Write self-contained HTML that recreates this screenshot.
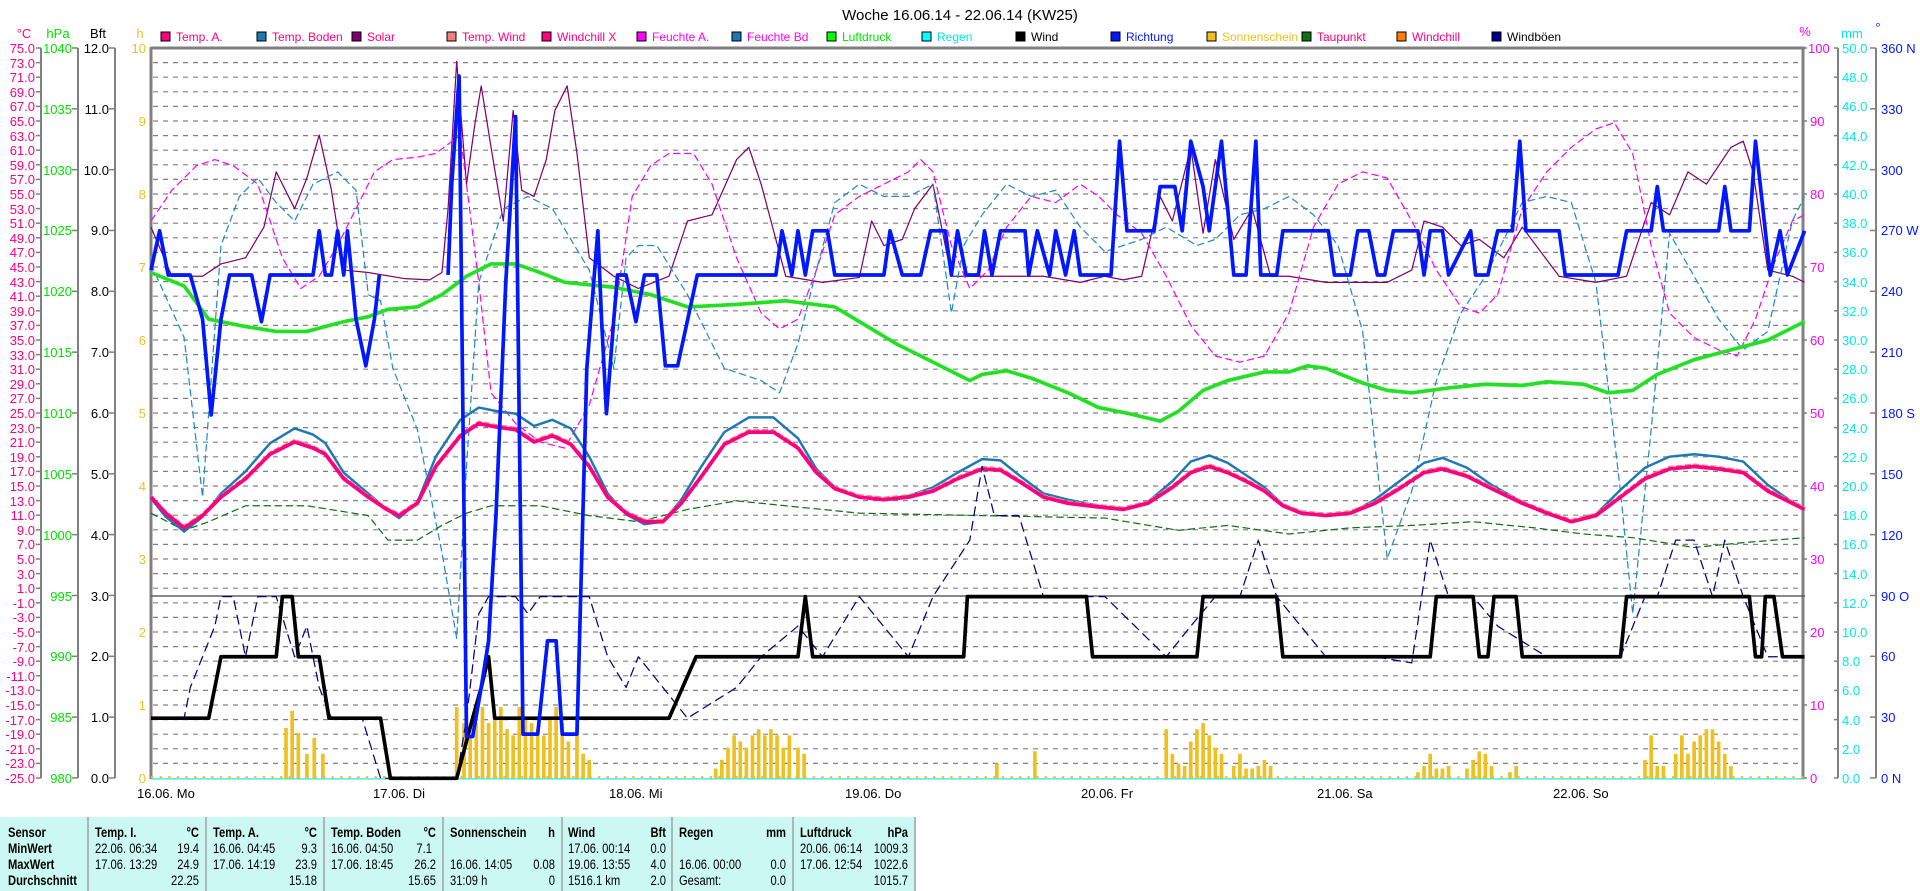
<!DOCTYPE html>
<html><head><meta charset="utf-8"><style>
html,body{margin:0;padding:0;background:#fff;}
svg{display:block;font-family:"Liberation Sans",sans-serif;}
.tb{font-family:"Liberation Sans",sans-serif;font-size:14px;}
</style></head><body>
<svg id="s" width="1920" height="891" xmlns="http://www.w3.org/2000/svg">
<rect width="1920" height="891" fill="#fff"/>
<g id="grid"></g>
<line x1="151" y1="48" x2="1805" y2="48" stroke="#808080" stroke-width="3"/>
<line x1="151" y1="47" x2="151" y2="779" stroke="#808080" stroke-width="3"/>
<line x1="1803" y1="47" x2="1803" y2="779" stroke="#808080" stroke-width="3"/>
<line x1="151" y1="596" x2="1805" y2="596" stroke="#606060" stroke-width="1.5"/>
<line x1="41" y1="48" x2="41" y2="778" stroke="#808080" stroke-width="2"/>
<line x1="78" y1="48" x2="78" y2="778" stroke="#808080" stroke-width="2"/>
<line x1="115" y1="48" x2="115" y2="778" stroke="#808080" stroke-width="2"/>
<line x1="1838" y1="48" x2="1838" y2="778" stroke="#808080" stroke-width="2"/>
<line x1="1876" y1="48" x2="1876" y2="778" stroke="#808080" stroke-width="2"/>
<g id="ticks"></g>

<g transform="scale(1.22762)" fill="none" stroke-linejoin="round">
<g id="bars" fill="#f0c020" stroke="none"></g>
<line x1="123" y1="633" x2="1470" y2="633" stroke="#f0c020" stroke-width="1.5" stroke-dasharray="2,5"/>
<line x1="123" y1="634.5" x2="1470" y2="634.5" stroke="#30e0e0" stroke-width="1"/>
<polyline stroke="#800070" stroke-width="1" points="123,185 140,225 165,225 180,215 200,210 215,185 225,140 240,170 250,145 260,110 270,155 280,220 300,222 330,227 350,228 360,222 365,170 372,50 380,150 387,100 392,70 400,120 410,180 418,90 425,155 435,160 445,130 452,90 462,70 470,125 480,210 500,225 520,235 545,225 560,180 580,175 600,130 610,120 620,150 640,225 670,230 700,226 710,180 720,200 735,195 745,170 760,150 775,225 800,225 850,225 880,230 900,225 915,228 930,225 945,160 955,180 970,120 980,190 990,130 1005,195 1020,170 1035,225 1050,225 1080,230 1130,230 1150,220 1160,180 1175,185 1190,200 1205,195 1225,210 1240,185 1270,225 1300,230 1325,225 1345,165 1360,175 1375,140 1390,150 1410,120 1420,115 1428,140 1440,220 1460,225 1470,230"/>
<polyline stroke="#ff00ff" stroke-width="1" stroke-dasharray="6,3" points="123,180 140,155 160,135 175,130 190,135 210,150 230,210 245,235 260,225 275,200 290,170 305,140 320,130 340,128 355,125 375,110 390,230 400,320 420,345 440,360 460,365 480,330 500,260 515,160 530,135 545,125 565,125 580,150 600,210 620,255 635,268 650,260 665,220 680,175 700,160 720,150 740,140 750,130 760,140 775,200 790,235 805,220 820,185 840,160 860,165 880,150 895,160 910,175 930,190 950,225 970,265 990,290 1010,295 1030,290 1050,255 1070,185 1090,150 1110,140 1130,145 1150,180 1170,220 1190,250 1205,255 1220,240 1240,170 1260,140 1280,120 1300,105 1315,100 1330,125 1345,200 1360,255 1380,275 1400,285 1415,290 1430,260 1445,215 1460,180 1470,175"/>
<polyline stroke="#1e8cc8" stroke-width="1" stroke-dasharray="6,3" points="123,215 150,275 165,405 180,200 195,160 210,145 225,165 240,180 255,150 275,140 290,155 300,240 310,245 320,300 340,350 360,450 372,520 380,380 390,230 410,170 430,160 450,170 480,220 500,300 510,210 520,200 535,200 560,240 590,300 620,310 635,320 650,280 665,220 680,165 700,150 720,160 740,160 760,150 775,255 785,200 800,175 820,150 840,160 860,155 880,185 900,205 930,195 950,185 975,200 990,195 1010,175 1030,170 1050,160 1070,175 1090,200 1110,270 1130,455 1150,400 1170,310 1190,255 1210,225 1240,165 1260,160 1280,165 1300,230 1320,400 1330,500 1345,350 1360,190 1380,225 1400,260 1420,285 1440,270 1460,180 1470,160"/>
<polyline stroke="#22e022" stroke-width="3" points="123,222 150,233 170,260 200,266 225,270 250,270 280,262 300,258 316,252 340,250 360,240 380,225 400,215 420,215 440,222 460,230 480,232 500,234 530,240 560,250 600,248 640,245 680,250 700,262 730,280 760,295 780,305 790,310 800,305 820,302 840,308 870,320 895,332 920,337 945,343 960,335 980,318 1000,310 1030,303 1050,303 1065,298 1080,300 1110,312 1130,318 1150,320 1180,316 1210,313 1240,314 1260,311 1290,313 1310,320 1330,318 1350,305 1380,293 1410,285 1440,277 1470,262"/>
<polyline stroke="#107010" stroke-width="1" stroke-dasharray="6,3" points="123,418 150,432 170,425 200,412 250,412 300,420 316,440 340,440 360,428 380,418 400,412 440,412 480,420 520,425 560,415 600,408 640,412 700,418 800,420 900,422 960,432 1000,428 1050,435 1100,430 1150,428 1200,425 1250,430 1290,435 1330,438 1380,446 1420,442 1470,438"/>
<polyline stroke="#1e78b4" stroke-width="2" transform="translate(0,-3)" points="123,409 135,424 150,436 165,424 180,405 200,387 220,364 240,352 255,357 265,364 280,388 300,405 315,418 325,425 340,412 355,375 375,345 390,335 405,338 420,340 435,350 450,345 465,352 480,375 495,405 510,422 525,430 540,428 555,410 570,385 590,355 610,343 630,343 650,360 665,385 680,400 700,408 720,410 740,407 760,400 780,388 800,377 815,378 830,390 850,405 870,410 895,415 915,418 935,412 955,395 970,379 985,374 1000,380 1015,390 1030,400 1045,414 1060,421 1080,423 1100,421 1120,410 1140,395 1160,380 1175,376 1195,384 1215,398 1240,412 1260,421 1280,428 1300,422 1320,402 1340,384 1360,375 1380,373 1400,375 1420,379 1440,398 1460,412 1470,418"/>
<polyline stroke="#f08080" stroke-width="1" stroke-dasharray="5,2" transform="translate(0,-2)" points="123,405 135,418 150,430 165,420 180,405 200,390 220,370 240,360 255,365 265,370 280,390 300,405 315,415 325,420 340,410 355,380 375,355 390,345 405,348 420,350 435,360 450,355 465,362 480,380 495,405 510,418 525,425 540,425 555,410 570,390 590,362 610,352 630,352 650,365 665,385 680,398 700,405 720,407 740,405 760,400 780,390 800,382 815,383 830,392 850,405 870,410 895,413 915,415 935,410 955,397 970,385 985,380 1000,385 1015,392 1030,400 1045,412 1060,418 1080,420 1100,418 1120,410 1140,398 1160,385 1175,382 1195,388 1215,398 1240,410 1260,418 1280,425 1300,420 1320,405 1340,390 1360,382 1380,380 1400,382 1420,385 1440,400 1460,410 1470,415"/>
<polyline stroke="#ff0080" stroke-width="3" points="123,405 135,418 150,430 165,420 180,405 200,390 220,370 240,360 255,365 265,370 280,390 300,405 315,415 325,420 340,410 355,380 375,355 390,345 405,348 420,350 435,360 450,355 465,362 480,380 495,405 510,418 525,425 540,425 555,410 570,390 590,362 610,352 630,352 650,365 665,385 680,398 700,405 720,407 740,405 760,400 780,390 800,382 815,383 830,392 850,405 870,410 895,413 915,415 935,410 955,397 970,385 985,380 1000,385 1015,392 1030,400 1045,412 1060,418 1080,420 1100,418 1120,410 1140,398 1160,385 1175,382 1195,388 1215,398 1240,410 1260,418 1280,425 1300,420 1320,405 1340,390 1360,382 1380,380 1400,382 1420,385 1440,400 1460,410 1470,415"/>
<polyline stroke="#000080" stroke-width="1" stroke-dasharray="8,4" points="123,585 150,585 155,560 165,535 175,510 180,486 190,486 200,535 210,486 225,486 240,535 250,510 260,560 270,585 295,585 310,634 372,634 380,585 390,500 398,486 420,486 430,500 440,486 480,486 495,535 510,560 520,535 540,560 560,585 600,560 620,535 650,510 670,535 700,486 740,535 760,486 790,440 800,380 810,420 830,420 850,486 900,486 950,535 970,510 990,486 1010,486 1025,440 1040,486 1080,535 1120,535 1150,540 1165,440 1180,486 1200,486 1220,510 1260,535 1320,535 1340,486 1350,486 1365,440 1380,440 1395,486 1405,440 1420,486 1440,535 1460,535"/>
<polyline stroke="#000" stroke-width="3" points="123,585 170,585 180,535 225,535 230,486 238,486 243,535 260,535 268,585 310,585 318,634 372,634 385,585 392,560 398,535 403,585 545,585 567,535 650,535 656,486 662,535 785,535 788,486 885,486 890,535 975,535 980,486 1040,486 1045,535 1165,535 1170,486 1200,486 1205,535 1212,535 1217,486 1235,486 1240,535 1320,535 1325,486 1425,486 1430,535 1435,535 1438,486 1445,486 1452,535 1470,535"/>
<polyline stroke="#0018ff" stroke-width="3" points="123,220 130,188 137,224 155,224 165,260 172,338 180,260 187,224 205,224 213,262 220,224 255,224 260,188 265,224 270,224 275,188 280,224 283,188 290,260 298,298 305,260 309,224"/>
<polyline stroke="#0018ff" stroke-width="3" points="365,224 368,150 374,62 380,600 385,600 392,560 398,522 404,420 412,230 420,95 426,598 432,598 438,598 446,522 453,522 458,598 470,598 478,300 487,188 490,260 494,337 500,260 503,224 510,224 518,262 525,224 535,224 542,298 552,298 568,224 632,224 637,188 645,224 650,188 656,224 662,188 674,188 680,224 720,224 725,188 735,224 750,224 758,188 770,188 775,224 780,188 787,224 797,224 802,188 808,224 815,188 835,188 838,224 845,188 855,224 860,188 868,224 875,188 880,224 905,224 912,115 918,188 940,188 945,152 957,152 963,188 970,115 980,152 985,188 995,115 1005,224 1015,224 1023,115 1027,224 1040,224 1045,188 1082,188 1087,224 1100,224 1106,188 1115,188 1122,224 1128,224 1135,188 1155,188 1160,224 1165,188 1175,188 1180,224 1198,188 1202,224 1212,224 1220,188 1232,188 1238,115 1243,188 1270,188 1275,224 1318,224 1325,188 1345,188 1350,152 1355,188 1400,188 1405,152 1410,188 1425,188 1430,115 1438,188 1442,224 1450,188 1456,224 1470,188"/>
</g>

<text x="960" y="20" text-anchor="middle" font-size="15" fill="#000">Woche 16.06.14 - 22.06.14 (KW25)</text>
<g font-size="12">
<rect x="161" y="32" width="9" height="9" fill="#ff0080" stroke="#000"/><text x="176" y="41" fill="#ff0080">Temp. A.</text>
<rect x="257" y="32" width="9" height="9" fill="#1e78b4" stroke="#000"/><text x="272" y="41" fill="#ff0080">Temp. Boden</text>
<rect x="352" y="32" width="9" height="9" fill="#800070" stroke="#000"/><text x="367" y="41" fill="#ff0080">Solar</text>
<rect x="447" y="32" width="9" height="9" fill="#f08080" stroke="#000"/><text x="462" y="41" fill="#ff0080">Temp. Wind</text>
<rect x="542" y="32" width="9" height="9" fill="#ff0080" stroke="#000"/><text x="557" y="41" fill="#ff0080">Windchill X</text>
<rect x="637" y="32" width="9" height="9" fill="#ff00ff" stroke="#000"/><text x="652" y="41" fill="#ff00ff">Feuchte A.</text>
<rect x="732" y="32" width="9" height="9" fill="#1e78b4" stroke="#000"/><text x="747" y="41" fill="#ff00ff">Feuchte Bd</text>
<rect x="827" y="32" width="9" height="9" fill="#00ff00" stroke="#000"/><text x="842" y="41" fill="#00e000">Luftdruck</text>
<rect x="922" y="32" width="9" height="9" fill="#00ffff" stroke="#000"/><text x="937" y="41" fill="#00e8e8">Regen</text>
<rect x="1016" y="32" width="9" height="9" fill="#000" stroke="#000"/><text x="1031" y="41" fill="#000">Wind</text>
<rect x="1111" y="32" width="9" height="9" fill="#0018ff" stroke="#000"/><text x="1126" y="41" fill="#0018ff">Richtung</text>
<rect x="1207" y="32" width="9" height="9" fill="#f0c020" stroke="#000"/><text x="1222" y="41" fill="#f0c020">Sonnenschein</text>
<rect x="1302" y="32" width="9" height="9" fill="#107010" stroke="#000"/><text x="1317" y="41" fill="#ff0080">Taupunkt</text>
<rect x="1397" y="32" width="9" height="9" fill="#ff8000" stroke="#000"/><text x="1412" y="41" fill="#ff0080">Windchill</text>
<rect x="1492" y="32" width="9" height="9" fill="#000090" stroke="#000"/><text x="1507" y="41" fill="#000">Windböen</text>
</g>

<g font-size="13">
<text x="24" y="38" text-anchor="middle" fill="#ff0080">°C</text>
<text x="58" y="38" text-anchor="middle" fill="#00e000">hPa</text>
<text x="98" y="38" text-anchor="middle" fill="#000">Bft</text>
<text x="140" y="38" text-anchor="middle" fill="#f0c020">h</text>
<text x="1805" y="36" text-anchor="middle" fill="#ff00ff">%</text>
<text x="1852" y="38" text-anchor="middle" fill="#00e8e8">mm</text>
<text x="1878" y="32" text-anchor="middle" fill="#0018ff">°</text>
</g>

<g font-size="13" fill="#ff0080" text-anchor="end">
<text x="35" y="53">75.0</text><text x="35" y="68">73.0</text><text x="35" y="82">71.0</text><text x="35" y="97">69.0</text><text x="35" y="111">67.0</text><text x="35" y="126">65.0</text><text x="35" y="141">63.0</text><text x="35" y="155">61.0</text><text x="35" y="170">59.0</text><text x="35" y="184">57.0</text><text x="35" y="199">55.0</text><text x="35" y="214">53.0</text><text x="35" y="228">51.0</text><text x="35" y="243">49.0</text><text x="35" y="257">47.0</text><text x="35" y="272">45.0</text><text x="35" y="287">43.0</text><text x="35" y="301">41.0</text><text x="35" y="316">39.0</text><text x="35" y="330">37.0</text><text x="35" y="345">35.0</text><text x="35" y="360">33.0</text><text x="35" y="374">31.0</text><text x="35" y="389">29.0</text><text x="35" y="403">27.0</text><text x="35" y="418">25.0</text><text x="35" y="433">23.0</text><text x="35" y="447">21.0</text><text x="35" y="462">19.0</text><text x="35" y="476">17.0</text><text x="35" y="491">15.0</text><text x="35" y="506">13.0</text><text x="35" y="520">11.0</text><text x="35" y="535">9.0</text><text x="35" y="549">7.0</text><text x="35" y="564">5.0</text><text x="35" y="579">3.0</text><text x="35" y="593">1.0</text><text x="35" y="608">-1.0</text><text x="35" y="622">-3.0</text><text x="35" y="637">-5.0</text><text x="35" y="652">-7.0</text><text x="35" y="666">-9.0</text><text x="35" y="681">-11.0</text><text x="35" y="695">-13.0</text><text x="35" y="710">-15.0</text><text x="35" y="725">-17.0</text><text x="35" y="739">-19.0</text><text x="35" y="754">-21.0</text><text x="35" y="768">-23.0</text><text x="35" y="783">-25.0</text>
</g>
<g font-size="13" fill="#00e000" text-anchor="end">
<text x="72" y="53">1040</text><text x="72" y="114">1035</text><text x="72" y="175">1030</text><text x="72" y="235">1025</text><text x="72" y="296">1020</text><text x="72" y="357">1015</text><text x="72" y="418">1010</text><text x="72" y="479">1005</text><text x="72" y="540">1000</text><text x="72" y="601">995</text><text x="72" y="661">990</text><text x="72" y="722">985</text><text x="72" y="783">980</text>
</g>
<g font-size="13" fill="#000" text-anchor="end">
<text x="109" y="53">12.0</text><text x="109" y="114">11.0</text><text x="109" y="175">10.0</text><text x="109" y="235">9.0</text><text x="109" y="296">8.0</text><text x="109" y="357">7.0</text><text x="109" y="418">6.0</text><text x="109" y="479">5.0</text><text x="109" y="540">4.0</text><text x="109" y="601">3.0</text><text x="109" y="661">2.0</text><text x="109" y="722">1.0</text><text x="109" y="783">0.0</text>
</g>
<g font-size="13" fill="#f0c020" text-anchor="end">
<text x="146" y="53">10</text><text x="146" y="126">9</text><text x="146" y="199">8</text><text x="146" y="272">7</text><text x="146" y="345">6</text><text x="146" y="418">5</text><text x="146" y="491">4</text><text x="146" y="564">3</text><text x="146" y="637">2</text><text x="146" y="710">1</text><text x="146" y="783">0</text>
</g>
<g font-size="13" fill="#ff00ff">
<text x="1808" y="53">100</text><text x="1810" y="126">90</text><text x="1810" y="199">80</text><text x="1810" y="272">70</text><text x="1810" y="345">60</text><text x="1810" y="418">50</text><text x="1810" y="491">40</text><text x="1810" y="564">30</text><text x="1810" y="637">20</text><text x="1810" y="710">10</text><text x="1810" y="783">0</text>
</g>
<g font-size="13" fill="#00e8e8">
<text x="1842" y="53">50.0</text><text x="1842" y="82">48.0</text><text x="1842" y="111">46.0</text><text x="1842" y="141">44.0</text><text x="1842" y="170">42.0</text><text x="1842" y="199">40.0</text><text x="1842" y="228">38.0</text><text x="1842" y="257">36.0</text><text x="1842" y="287">34.0</text><text x="1842" y="316">32.0</text><text x="1842" y="345">30.0</text><text x="1842" y="374">28.0</text><text x="1842" y="403">26.0</text><text x="1842" y="433">24.0</text><text x="1842" y="462">22.0</text><text x="1842" y="491">20.0</text><text x="1842" y="520">18.0</text><text x="1842" y="549">16.0</text><text x="1842" y="579">14.0</text><text x="1842" y="608">12.0</text><text x="1842" y="637">10.0</text><text x="1842" y="666">8.0</text><text x="1842" y="695">6.0</text><text x="1842" y="725">4.0</text><text x="1842" y="754">2.0</text><text x="1842" y="783">0.0</text>
</g>
<g font-size="13" fill="#0018ff">
<text x="1881" y="53">360 N</text><text x="1881" y="114">330</text><text x="1881" y="175">300</text><text x="1881" y="235">270 W</text><text x="1881" y="296">240</text><text x="1881" y="357">210</text><text x="1881" y="418">180 S</text><text x="1881" y="479">150</text><text x="1881" y="540">120</text><text x="1881" y="601">90 O</text><text x="1881" y="661">60</text><text x="1881" y="722">30</text><text x="1881" y="783">0 N</text>
</g>
<g font-size="13" fill="#000">
<text x="137" y="798">16.06.  Mo</text><text x="373" y="798">17.06.  Di</text><text x="609" y="798">18.06.  Mi</text><text x="845" y="798">19.06.  Do</text><text x="1081" y="798">20.06.  Fr</text><text x="1317" y="798">21.06.  Sa</text><text x="1553" y="798">22.06.  So</text>
</g>

<rect x="0" y="817" width="915" height="74" fill="#ccf8f4"/>
<g stroke="#a0a0a0" stroke-width="1.5">
<line x1="88" y1="817" x2="88" y2="891"/><line x1="206" y1="817" x2="206" y2="891"/><line x1="324" y1="817" x2="324" y2="891"/><line x1="443" y1="817" x2="443" y2="891"/><line x1="562" y1="817" x2="562" y2="891"/><line x1="672" y1="817" x2="672" y2="891"/><line x1="793" y1="817" x2="793" y2="891"/><line x1="915" y1="817" x2="915" y2="891"/>
</g>
<g class="tb" fill="#000" transform="scale(0.8 1)">
<g font-weight="bold">
<text x="10" y="837">Sensor</text><text x="10" y="853">MinWert</text><text x="10" y="869">MaxWert</text><text x="10" y="885">Durchschnitt</text>
<text x="118.75" y="837">Temp. I.</text><text x="248.75" y="837" text-anchor="end">°C</text>
<text x="266.25" y="837">Temp. A.</text><text x="396.25" y="837" text-anchor="end">°C</text>
<text x="413.75" y="837">Temp. Boden</text><text x="545" y="837" text-anchor="end">°C</text>
<text x="562.5" y="837">Sonnenschein</text><text x="693.75" y="837" text-anchor="end">h</text>
<text x="710" y="837">Wind</text><text x="832.5" y="837" text-anchor="end">Bft</text>
<text x="848.75" y="837">Regen</text><text x="982.5" y="837" text-anchor="end">mm</text>
<text x="1000" y="837">Luftdruck</text><text x="1135" y="837" text-anchor="end">hPa</text>
</g>
<text x="118.75" y="853">22.06.  06:34</text><text x="248.75" y="853" text-anchor="end">19.4</text>
<text x="118.75" y="869">17.06.  13:29</text><text x="248.75" y="869" text-anchor="end">24.9</text>
<text x="248.75" y="885" text-anchor="end">22.25</text>
<text x="266.25" y="853">16.06.  04:45</text><text x="396.25" y="853" text-anchor="end">9.3</text>
<text x="266.25" y="869">17.06.  14:19</text><text x="396.25" y="869" text-anchor="end">23.9</text>
<text x="396.25" y="885" text-anchor="end">15.18</text>
<text x="413.75" y="853">16.06.  04:50</text><text x="540" y="853" text-anchor="end">7.1</text>
<text x="413.75" y="869">17.06.  18:45</text><text x="545" y="869" text-anchor="end">26.2</text>
<text x="545" y="885" text-anchor="end">15.65</text>
<text x="562.5" y="869">16.06.  14:05</text><text x="693.75" y="869" text-anchor="end">0.08</text>
<text x="562.5" y="885">31:09 h</text><text x="693.75" y="885" text-anchor="end">0</text>
<text x="710" y="853">17.06.  00:14</text><text x="832.5" y="853" text-anchor="end">0.0</text>
<text x="710" y="869">19.06.  13:55</text><text x="832.5" y="869" text-anchor="end">4.0</text>
<text x="710" y="885">1516.1 km</text><text x="832.5" y="885" text-anchor="end">2.0</text>
<text x="848.75" y="869">16.06.  00:00</text><text x="982.5" y="869" text-anchor="end">0.0</text>
<text x="848.75" y="885">Gesamt:</text><text x="982.5" y="885" text-anchor="end">0.0</text>
<text x="1000" y="853">20.06.  06:14</text><text x="1135" y="853" text-anchor="end">1009.3</text>
<text x="1000" y="869">17.06.  12:54</text><text x="1135" y="869" text-anchor="end">1022.6</text>
<text x="1135" y="885" text-anchor="end">1015.7</text>
</g>
</svg>
<script>
var NS="http://www.w3.org/2000/svg";
function el(p,n,a){var e=document.createElementNS(NS,n);for(var k in a)e.setAttribute(k,a[k]);p.appendChild(e);return e;}
var g=document.getElementById("grid"),t=document.getElementById("ticks");
for(var i=1;i<50;i++){var y=48+i*14.6;el(g,"line",{x1:153,x2:1801,y1:y,y2:y,stroke:"#808080","stroke-width":1.2,"stroke-dasharray":"5,5"});}
for(var i=0;i<=50;i++){var y=48+i*14.6;el(t,"line",{x1:36,x2:41,y1:y,y2:y,stroke:"#808080","stroke-width":1.5});}
for(var i=0;i<=12;i++){var y=48+i*60.83;el(t,"line",{x1:72,x2:78,y1:y,y2:y,stroke:"#808080","stroke-width":1.5});el(t,"line",{x1:109,x2:115,y1:y,y2:y,stroke:"#808080","stroke-width":1.5});el(t,"line",{x1:1870,x2:1876,y1:y,y2:y,stroke:"#808080","stroke-width":1.5});}
for(var i=0;i<=10;i++){var y=48+i*73;el(t,"line",{x1:1803,x2:1807,y1:y,y2:y,stroke:"#808080","stroke-width":1.5});}
for(var i=0;i<=25;i++){var y=48+i*29.2;el(t,"line",{x1:1834,x2:1838,y1:y,y2:y,stroke:"#808080","stroke-width":1.5});}
var B=[[233,41],[238,55],[243,37],[250,20],[256,33],[263,20],[372,58],[378,45],[383,35],[388,45],[393,58],[398,45],[403,50],[408,58],[413,40],[418,35],[423,58],[428,50],[433,45],[438,40],[443,35],[448,50],[453,58],[458,45],[463,30],[470,50],[475,20],[480,15],[583,8],[588,15],[593,25],[598,35],[603,30],[608,25],[613,35],[618,40],[623,35],[628,40],[633,35],[638,25],[643,35],[650,25],[655,20],[812,12],[843,22],[950,40],[955,20],[960,12],[965,10],[970,30],[975,40],[980,45],[985,35],[990,25],[995,20],[1005,10],[1010,20],[1015,8],[1020,8],[1025,10],[1030,15],[1035,10],[1155,5],[1160,10],[1165,20],[1170,8],[1175,8],[1180,10],[1195,8],[1200,15],[1205,22],[1210,20],[1215,10],[1230,5],[1235,10],[1340,15],[1345,35],[1350,10],[1355,10],[1365,20],[1370,35],[1375,20],[1380,30],[1385,35],[1390,40],[1395,40],[1400,30],[1405,20],[1410,10]];
var bg=document.getElementById("bars");
B.forEach(function(b){el(bg,"rect",{x:b[0]-1.5,y:634-b[1],width:3,height:b[1]});});
</script>
</body></html>
